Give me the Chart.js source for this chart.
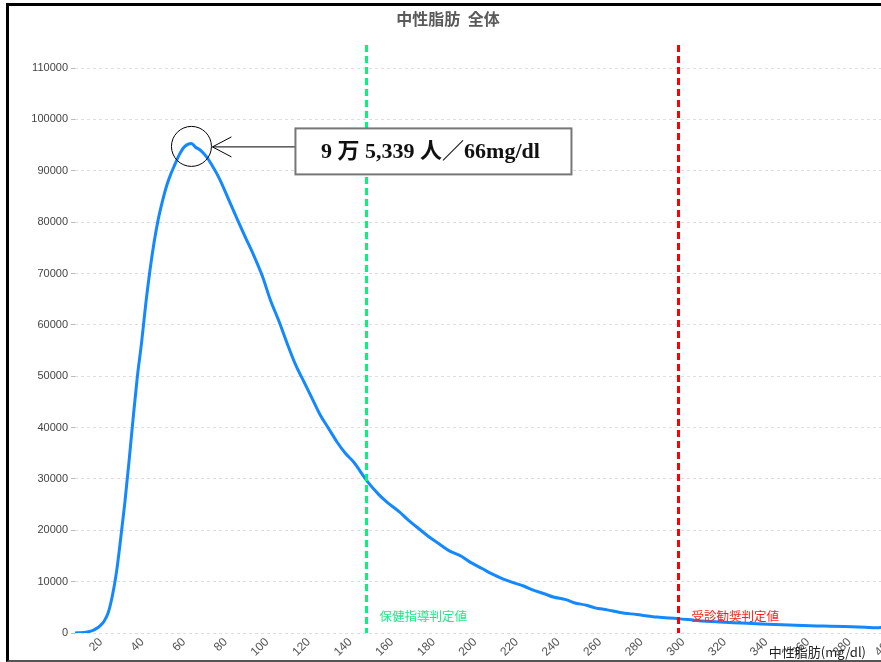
<!DOCTYPE html>
<html>
<head>
<meta charset="utf-8">
<script src="https://cdn.jsdelivr.net/npm/chart.js@4.4.0/dist/chart.umd.min.js"></script>
<style>
  html, body { margin: 0; padding: 0; background: #fff; overflow: hidden; }
  #wrap { position: absolute; left: 0; top: 0; width: 881px; height: 662px; overflow: hidden; background: #fff; }
  #box { position: absolute; left: 0; top: 0; width: 910px; height: 662px; }
  #frame { position: absolute; left: 6px; top: 3px; width: 900px; height: 654px;
           border-left: 3px solid #000; border-top: 3px solid #000; border-bottom: 2px solid #555; pointer-events: none; }
</style>
</head>
<body>
<div id="wrap">
  <div id="box"><canvas id="tgChart"></canvas></div>
  <div id="frame"></div>
</div>
<script>
// triglyceride value (mg/dl) and number of people
const tgValues = [10, 14, 18, 20, 22, 24, 26, 28, 30, 32, 34, 36, 38, 40, 42, 44, 46, 48, 50, 52, 54, 56, 58, 60,
  62, 64, 66, 68, 70, 72, 74, 76, 78, 80, 84, 88, 92, 96, 100, 104, 108, 112, 116, 120, 124, 128, 132, 136,
  140, 144, 148, 150, 156, 160, 166, 170, 176, 180, 186, 190, 196, 200, 206, 210, 216, 220, 226, 230, 236,
  240, 246, 250, 256, 260, 266, 272, 280, 290, 300, 310, 320, 330, 340, 350, 360, 370, 380, 390, 395, 400];
const peopleCounts = [0, 100, 400, 800, 1400, 2300, 4000, 7300, 12000, 18500, 25500, 33500, 42000, 50000, 56500,
  64000, 70500, 76000, 80500, 84000, 87000, 89300, 91200, 93000, 94400, 95100, 95339, 94600, 94100, 93300,
  92300, 91000, 89600, 88000, 84300, 80600, 77000, 73500, 69600, 64800, 60800, 56400, 52300, 49000, 45700,
  42400, 39800, 37200, 35000, 33300, 31000, 29800, 27000, 25500, 23600, 22100, 20100, 18800, 17100, 16000,
  14900, 13800, 12500, 11600, 10500, 9900, 9100, 8400, 7600, 7000, 6500, 5900, 5400, 4900, 4500, 4000, 3600,
  3100, 2800, 2400, 2150, 1950, 1750, 1600, 1450, 1350, 1250, 1100, 1000, 1200];

const xTicks = [20, 40, 60, 80, 100, 120, 140, 160, 180, 200, 220, 240, 260, 280, 300, 320, 340, 360, 380, 400];
const yTicks = [0, 10000, 20000, 30000, 40000, 50000, 60000, 70000, 80000, 90000, 100000, 110000];

const chartTitle = "中性脂肪  全体";
const xTitle = "中性脂肪(mg/dl)";
const guideLimit = 150;
const guideLabel = "保健指導判定値";
const clinicLimit = 300;
const clinicLabel = "受診勧奨判定値";
const peakValue = 66;
const peakCount = 95339;
const peakText = "9 万 5,339 人／66mg/dl";

Chart.defaults.font.family = 'Arial, "Liberation Sans", "Noto Sans CJK JP", sans-serif';

const extras = {
  id: "extras",
  afterDatasetsDraw(chart) {
    const ctx = chart.ctx;
    const xs = chart.scales.x, ys = chart.scales.y;
    const area = chart.chartArea;
    ctx.save();

    // title
    ctx.fillStyle = "#5a5a5a";
    ctx.font = 'bold 16px "Noto Sans CJK JP", sans-serif';
    ctx.textAlign = "center";
    ctx.textBaseline = "middle";
    ctx.fillText(chartTitle, 448, 19);

    // limit lines
    const limits = [[guideLimit, "#0ff07a", "#1ee886", guideLabel], [clinicLimit, "#ff0000", "#ff1a1a", clinicLabel]];
    limits.forEach(([v, col, tcol, label]) => {
      const px = Math.round(xs.getPixelForValue(v)) + 0.5;
      ctx.strokeStyle = col;
      ctx.lineWidth = 3;
      ctx.setLineDash([7, 4]);
      ctx.beginPath();
      ctx.moveTo(px, area.top);
      ctx.lineTo(px, area.bottom);
      ctx.stroke();
      ctx.setLineDash([]);
      ctx.fillStyle = tcol;
      ctx.font = '12.5px "Noto Sans CJK JP", sans-serif';
      ctx.textAlign = "left";
      ctx.textBaseline = "alphabetic";
      ctx.fillText(label, px + 13, 621);
    });

    // peak annotation
    const cx = xs.getPixelForValue(peakValue);
    const cy = ys.getPixelForValue(peakCount) + 3;
    ctx.strokeStyle = "#000";
    ctx.lineWidth = 1;
    ctx.beginPath();
    ctx.arc(cx, cy, 20, 0, Math.PI * 2);
    ctx.stroke();

    const bx = cx + 104, by = cy - 18, bw = 276, bh = 46;
    ctx.beginPath();
    ctx.moveTo(bx, cy + 0.5);
    ctx.lineTo(cx + 21, cy + 0.5);
    ctx.moveTo(cx + 40, cy - 9.5);
    ctx.lineTo(cx + 21, cy + 0.5);
    ctx.lineTo(cx + 40, cy + 10.5);
    ctx.stroke();

    ctx.fillStyle = "#fff";
    ctx.fillRect(bx, by, bw, bh);
    ctx.strokeStyle = "#777";
    ctx.lineWidth = 2;
    ctx.strokeRect(bx, by, bw, bh);
    ctx.fillStyle = "#111";
    ctx.font = 'bold 22px "Liberation Serif", "DejaVu Serif", "Noto Sans CJK JP", serif';
    ctx.textAlign = "center";
    ctx.textBaseline = "middle";
    ctx.fillText(peakText, bx + bw / 2 - 3, by + bh / 2 + 1);

    // x axis title
    ctx.fillStyle = "#222";
    ctx.font = '13px "Noto Sans CJK JP", sans-serif';
    ctx.textAlign = "right";
    ctx.textBaseline = "middle";
    ctx.fillText(xTitle, xs.getPixelForValue(400) - 20, 652);
    ctx.restore();
  }
};

new Chart(document.getElementById("tgChart"), {
  type: "line",
  data: {
    datasets: [{
      label: "中性脂肪",
      data: tgValues.map((v, i) => ({ x: v, y: peopleCounts[i] })),
      borderColor: "#1488ff",
      borderWidth: 3,
      pointRadius: 0,
      fill: false,
      cubicInterpolationMode: "monotone",
    }],
  },
  options: {
    responsive: true,
    maintainAspectRatio: false,
    animation: false,
    layout: { padding: { top: 45, right: 24, bottom: 0, left: 0 } },
    plugins: { legend: { display: false }, tooltip: { enabled: false }, title: { display: false } },
    scales: {
      x: {
        type: "linear",
        min: 10,
        max: 400,
        afterBuildTicks: (s) => { s.ticks = xTicks.map((v) => ({ value: v })); },
        afterFit: (s) => { s.height = 29; },
        grid: { display: false, drawTicks: false },
        border: { display: false },
        ticks: { minRotation: 45, maxRotation: 45, padding: 2, labelOffset: 5, color: "#555",
                 font: { size: 12 }, callback: (v) => String(v) },
      },
      y: {
        min: 0,
        max: 114500,
        afterBuildTicks: (s) => { s.ticks = yTicks.map((v) => ({ value: v })); },
        afterFit: (s) => { s.width = 75; },
        grid: { color: "#dddddd", tickLength: 4, tickColor: "#bbb" },
        border: { display: false, dash: [3, 3] },
        ticks: { padding: 3, color: "#444", font: { size: 11 }, callback: (v) => String(v) },
      },
    },
  },
  plugins: [extras],
});
</script>
</body>
</html>
